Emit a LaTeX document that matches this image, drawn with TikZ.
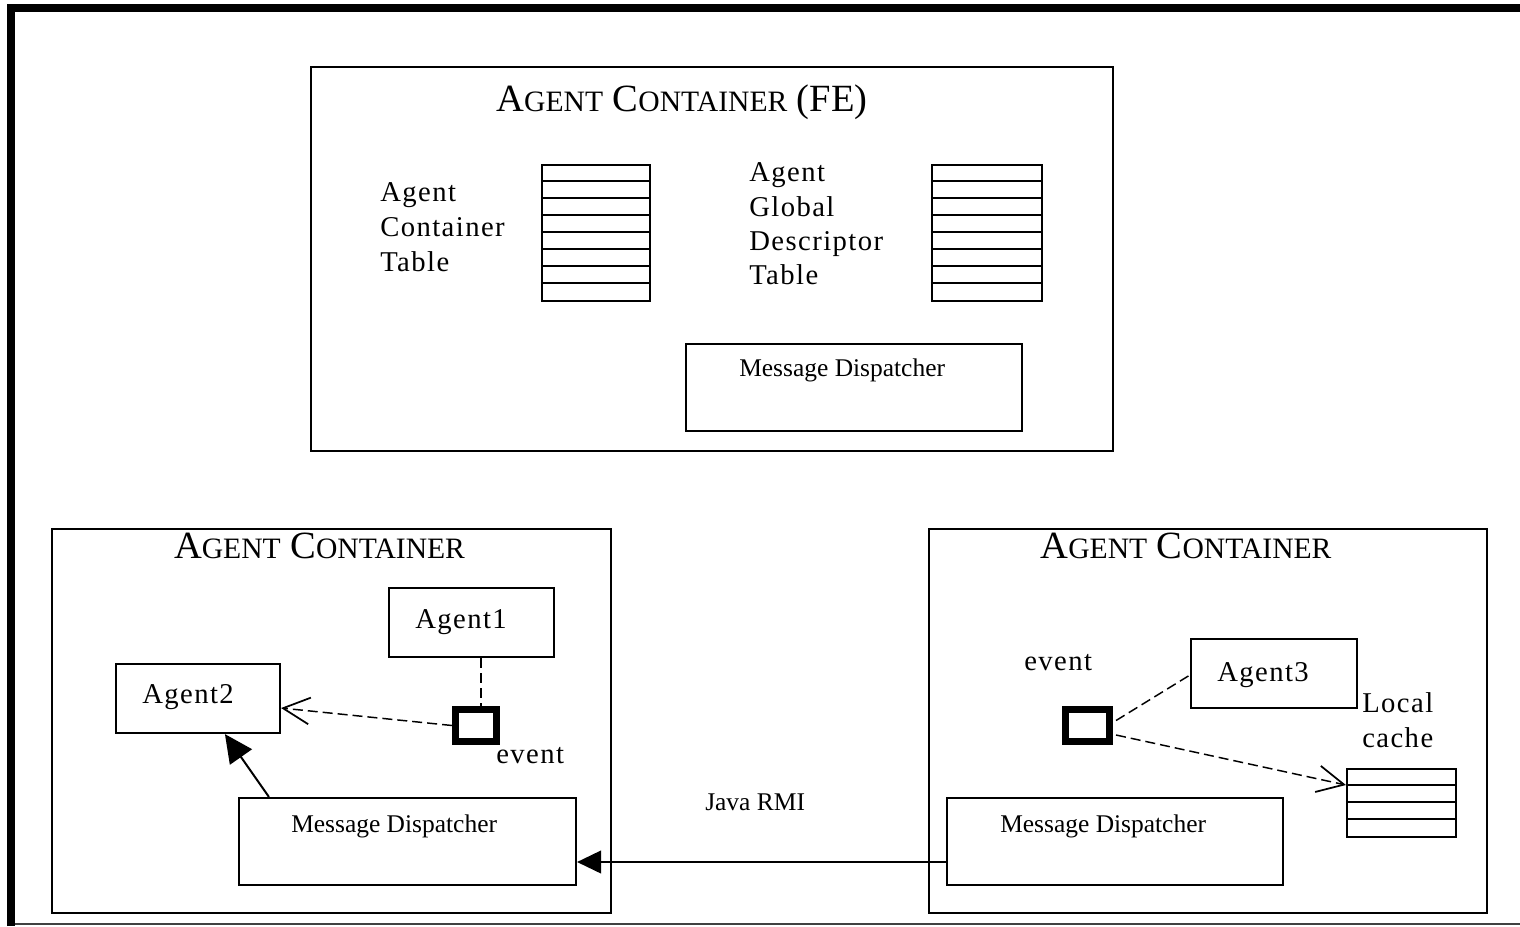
\documentclass[tikz,border=0pt]{standalone}
\usepackage{fontspec}
\setmainfont{Liberation Serif}
\newfontfamily\spfont[LetterSpace=5]{Liberation Serif}
\usetikzlibrary{arrows.meta,calc}
\newcommand\smcap[1]{{\fontsize{22.2pt}{24pt}\selectfont #1}}
\tikzset{
  ln/.style={line width=1.5pt},
  bx/.style 2 args={draw, line width=1.6pt, inner sep=0pt, minimum width=#1*0.75pt, minimum height=#2*0.75pt},
  evbox/.style 2 args={draw, line width=5.25pt, inner sep=0pt, minimum width=#1*0.75pt, minimum height=#2*0.75pt},
  txt/.style={inner sep=0pt, anchor=base west, font=\spfont\fontsize{21.5pt}{26pt}\selectfont},
  smalltxt/.style={inner sep=0pt, anchor=base west, font=\fontsize{19.1pt}{22pt}\selectfont},
  ttl/.style={inner sep=0pt, anchor=base, font=\fontsize{28.9pt}{30pt}\selectfont},
  dsh/.style={line width=1.1pt, dash pattern=on 7.5pt off 3.75pt},
  openarrow/.style={-{Straight Barb[length=20pt,width=20pt,line width=1.3pt]}},
  fillarrow/.style={-{Triangle[length=18pt,width=17pt]}},
  bigfillarrow/.style={-{Triangle[length=21pt,width=20pt]}},
}
\begin{document}
\begin{tikzpicture}[x=0.75pt,y=-0.75pt]
\fill[white] (0,0) rectangle (1520,926);
\useasboundingbox (0,0) rectangle (1520,926);
% outer frame
\coordinate (fr1) at (11,926);
\coordinate (fr2) at (11,7.5);
\coordinate (fr3) at (1520,7.5);
\coordinate (fr4) at (15,924);
\coordinate (fr5) at (1520,924);
\draw[line width=6pt] (fr1) -- (fr2);
\draw[line width=6pt] (7,7.5) -- (fr3);
\draw[line width=1.2pt, black!75] (fr4) -- (fr5);

% FE container
\node[bx={802}{384}] (fe) at (712,259) {};
\node[ttl] (fetitle) at (682,111.7) {A\smcap{GENT} C\smcap{ONTAINER} (FE)};
\node[txt] (act1) at (380,201.7) {Agent};
\node[txt] (act2) at (380,236.7) {Container};
\node[txt] (act3) at (380,271.7) {Table};
\node[txt] (agd1) at (749,181) {Agent};
\node[txt] (agd2) at (749,216) {Global};
\node[txt] (agd3) at (749,250) {Descriptor};
\node[txt] (agd4) at (749,284) {Table};
\node[bx={108}{136}] (t1) at (596,233) {};
\foreach \i in {1,...,7} \draw[ln] ($(t1.north west)+(0,\i*17)$) -- ++(108,0);
\node[bx={110}{136}] (t2) at (987,233) {};
\foreach \i in {1,...,7} \draw[ln] ($(t2.north west)+(0,\i*17)$) -- ++(110,0);
\node[bx={336}{87}] (femd) at (854,387.5) {};
\node[smalltxt] (femdl) at (739,376) {Message Dispatcher};

% left container
\node[bx={559}{384}] (lc) at (331.5,721) {};
\node[ttl] (lctitle) at (319.5,558) {A\smcap{GENT} C\smcap{ONTAINER}};
\node[bx={165}{69}] (agent1) at (471.5,622.5) {};
\node[txt] (agent1l) at (415,628) {Agent1};
\node[bx={164}{69}] (agent2) at (198,698.5) {};
\node[txt] (agent2l) at (142,703) {Agent2};
\node[evbox={41}{32}] (ev1) at (476,725.5) {};
\node[txt] (ev1l) at (496,763) {event};
\node[bx={337}{87}] (md1) at (407.5,841.5) {};
\node[smalltxt] (md1l) at (291,832) {Message Dispatcher};
\draw[dsh] (agent1.south) ++(9.5,0) coordinate (q1) -- (q1 |- ev1.north);
\draw[dsh,openarrow] (ev1.west) -- ($(agent2.east)+(0,9.5)$);
\draw[ln,bigfillarrow] ($(md1.north west)+(31,0)$) -- ($(agent2.south west)+(110,0)$);

% right container
\node[bx={558}{384}] (rc) at (1208,721) {};
\node[ttl] (rctitle) at (1186,558) {A\smcap{GENT} C\smcap{ONTAINER}};
\node[bx={166}{69}] (agent3) at (1274,673.5) {};
\node[txt] (agent3l) at (1217,681) {Agent3};
\node[evbox={44.5}{32}] (ev2) at (1087.3,725.5) {};
\node[txt] (ev2l) at (1024,670) {event};
\node[txt] (lcache1) at (1362,712) {Local};
\node[txt] (lcache2) at (1362,747) {cache};
\node[bx={109}{68}] (cache) at (1401.5,803) {};
\foreach \i in {1,...,3} \draw[ln] ($(cache.north west)+(0,\i*17)$) -- ++(109,0);
\node[bx={336}{87}] (rmd) at (1115,841.5) {};
\node[smalltxt] (rmdl) at (1000,832) {Message Dispatcher};
\draw[dsh] ($(ev2.east)+(3,-5)$) -- ($(agent3.west)+(0,1.5)$);
\draw[dsh,openarrow] ($(ev2.east)+(3,9.5)$) -- ($(cache.west)+(0,-18)$);

% Java RMI
\draw[ln,fillarrow] ($(rmd.west)+(0,20.5)$) -- ($(md1.east)+(0,20.5)$);
\node[smalltxt] (rmi) at (705,810) {Java RMI};
\end{tikzpicture}
\end{document}
